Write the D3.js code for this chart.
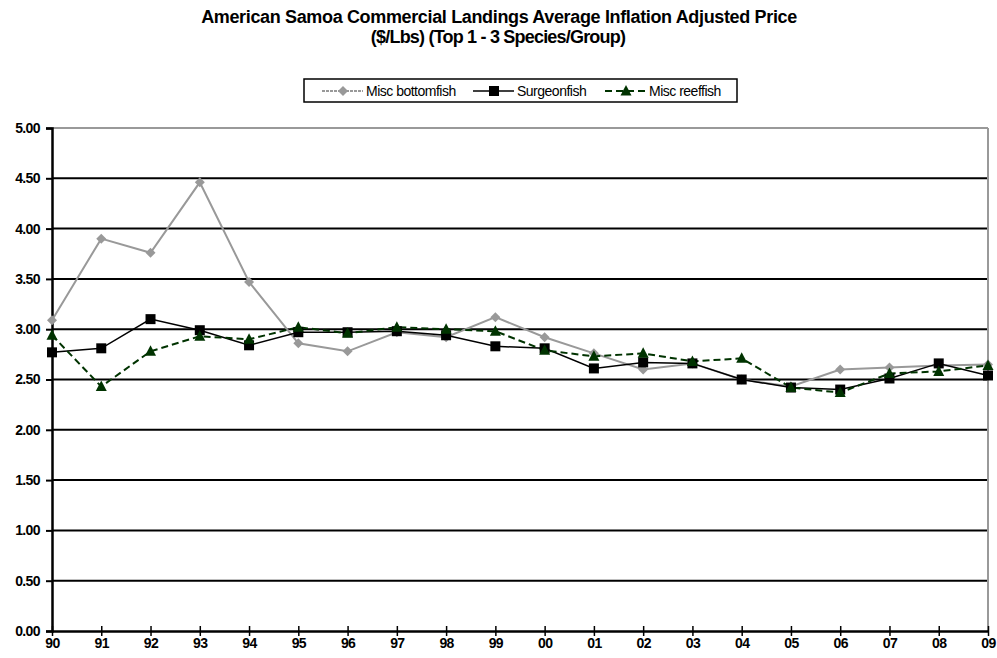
<html>
<head>
    <script src="https://cdn.jsdelivr.net/npm/d3@7"></script>
    <style>
        body { margin: 0; background: #fff; }
        text { font-family: Arial, "Liberation Sans", sans-serif; }
    </style>
</head>
<body>
<script>
    var years = ['90', '91', '92', '93', '94', '95', '96', '97', '98', '99',
        '00', '01', '02', '03', '04', '05', '06', '07', '08', '09'];
    var yTicks = [0, 0.5, 1, 1.5, 2, 2.5, 3, 3.5, 4, 4.5, 5];

    var bottomfish = [3.09, 3.90, 3.76, 4.46, 3.47, 2.86, 2.78, 2.97, 2.92, 3.12,
        2.92, 2.76, 2.60, 2.66, 2.50, 2.43, 2.60, 2.62, 2.64, 2.65];
    var surgeonfish = [2.77, 2.81, 3.10, 2.99, 2.84, 2.97, 2.97, 2.98, 2.94, 2.83,
        2.81, 2.61, 2.67, 2.66, 2.50, 2.42, 2.40, 2.51, 2.66, 2.54];
    var reeffish = [2.94, 2.43, 2.78, 2.93, 2.90, 3.02, 2.96, 3.02, 3.00, 2.98,
        2.79, 2.73, 2.76, 2.68, 2.71, 2.42, 2.37, 2.56, 2.58, 2.64];

    var w = 997, h = 658;
    var plotLeft = 52, plotRight = 988, plotTop = 128, plotBottom = 631;

    var svg = d3.select('body').append('svg')
        .attr('width', w)
        .attr('height', h);

    var x = d3.scalePoint().domain(years).range([plotLeft, plotRight]);
    var y = d3.scaleLinear().domain([0, 5]).range([plotBottom, plotTop]);

    // title
    svg.append('text').attr('x', 499).attr('y', 23).attr('text-anchor', 'middle')
        .style('font-size', '18px').style('font-weight', 'bold').style('letter-spacing', '-0.35px')
        .text('American Samoa Commercial Landings  Average Inflation Adjusted Price');
    svg.append('text').attr('x', 498).attr('y', 43).attr('text-anchor', 'middle')
        .style('font-size', '18px').style('font-weight', 'bold').style('letter-spacing', '-0.8px')
        .text('($/Lbs) (Top 1 - 3 Species/Group)');

    // gridlines
    svg.append('g').selectAll('line')
        .data(yTicks.filter(d => d > 0 && d < 5))
        .enter().append('line')
        .attr('x1', plotLeft).attr('x2', plotRight)
        .attr('y1', d => y(d)).attr('y2', d => y(d))
        .attr('stroke', '#000').attr('stroke-width', 2);

    // top / right border
    svg.append('line').attr('x1', plotLeft).attr('x2', plotRight).attr('y1', y(5)).attr('y2', y(5))
        .attr('stroke', '#999').attr('stroke-width', 2);
    svg.append('line').attr('x1', plotRight).attr('x2', plotRight).attr('y1', y(5)).attr('y2', y(0))
        .attr('stroke', '#999').attr('stroke-width', 2);

    // axes
    var yAxis = d3.axisLeft(y).tickValues(yTicks).tickFormat(d3.format('.2f')).tickSize(6).tickPadding(6);
    var gy = svg.append('g').attr('transform', 'translate(' + plotLeft + ',0)').call(yAxis);
    var xAxis = d3.axisBottom(x).tickSize(0).tickPadding(7);
    var gx = svg.append('g').attr('transform', 'translate(0,' + plotBottom + ')').call(xAxis);

    gy.select('.domain').attr('stroke', '#000').attr('stroke-width', 2.5);
    gy.selectAll('.tick line').attr('stroke', '#000').attr('stroke-width', 2);
    gx.select('.domain').attr('stroke', '#000').attr('stroke-width', 2.5);
    gx.selectAll('.tick').append('line').attr('y1', -5).attr('y2', 5).attr('stroke', '#000').attr('stroke-width', 1.5);
    [gy, gx].forEach(g => g.selectAll('text')
        .style('font-size', '14px').style('font-weight', 'bold').style('letter-spacing', '-0.6px')
        .attr('fill', '#000')
        .style('font-family', 'Arial, "Liberation Sans", sans-serif'));

    var line = d3.line().x((d, i) => x(years[i])).y(d => y(d));

    var series = [
        { name: 'Misc bottomfish', values: bottomfish, color: '#999999', width: 2, dash: null, symbol: 'diamond' },
        { name: 'Surgeonfish', values: surgeonfish, color: '#000000', width: 1.5, dash: null, symbol: 'square' },
        { name: 'Misc reeffish', values: reeffish, color: '#003300', width: 2, dash: '7,4', symbol: 'triangle' }
    ];

    var symbolPath = {
        diamond: 'M0,-5L5,0L0,5L-5,0Z',
        square: 'M-5,-5H5V5H-5Z',
        triangle: 'M0,-6L5.5,4.5H-5.5Z'
    };

    series.forEach(s => {
        svg.append('path').datum(s.values)
            .attr('d', line).attr('fill', 'none')
            .attr('stroke', s.color).attr('stroke-width', s.width)
            .attr('stroke-dasharray', s.dash);
    });
    series.forEach(s => {
        svg.append('g').selectAll('path')
            .data(s.values).enter().append('path')
            .attr('d', symbolPath[s.symbol])
            .attr('transform', (d, i) => 'translate(' + x(years[i]) + ',' + y(d) + ')')
            .attr('fill', s.color);
    });

    // legend
    var lg = svg.append('g');
    lg.append('rect').attr('x', 304).attr('y', 79).attr('width', 433).attr('height', 23)
        .attr('fill', '#fff').attr('stroke', '#000').attr('stroke-width', 1.5);
    var legendText = [366, 517, 649];
    series.forEach((s, i) => {
        var tx = legendText[i];
        lg.append('line').attr('x1', tx - 44).attr('x2', tx - 3).attr('y1', 91).attr('y2', 91)
            .attr('stroke', s.color).attr('stroke-width', s.width)
            .attr('stroke-dasharray', s.dash || (i === 0 ? '3,1' : null));
        lg.append('path').attr('d', symbolPath[s.symbol])
            .attr('transform', 'translate(' + (tx - 23) + ',91)').attr('fill', s.color);
        lg.append('text').attr('x', tx).attr('y', 96)
            .style('font-size', '14px').style('letter-spacing', '-0.5px')
            .text(s.name);
    });
</script>
</body>
</html>
